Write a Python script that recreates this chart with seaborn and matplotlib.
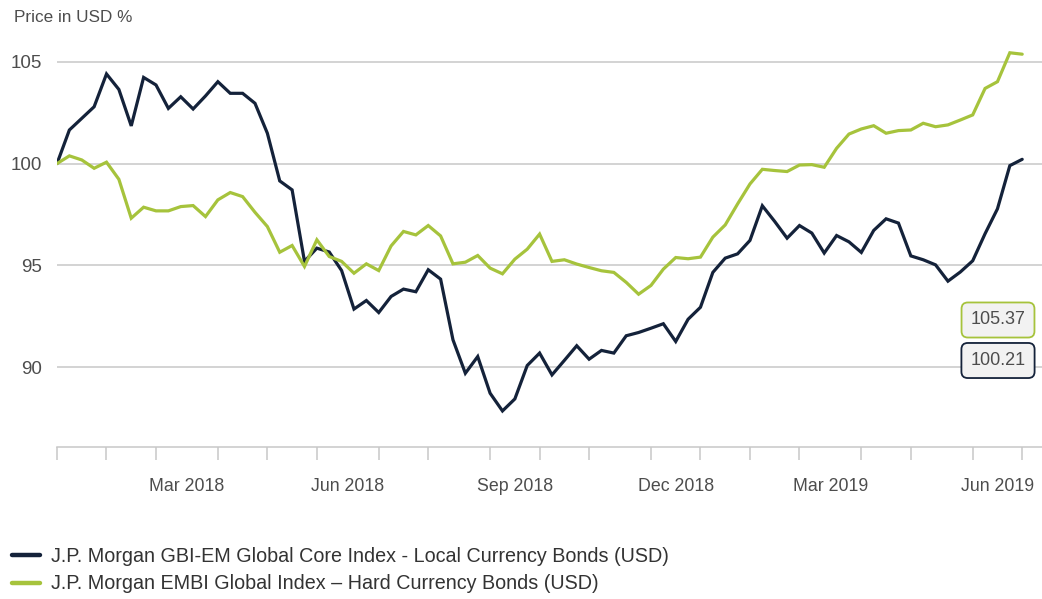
import numpy as np
import pandas as pd
import matplotlib
matplotlib.use("Agg")
import matplotlib.pyplot as plt
from matplotlib.lines import Line2D
import seaborn as sns

# ---------------- data ----------------
start_date = "2017-12-29"  # weekly (Friday) observations

local_ccy = [100.00, 101.65, 102.22, 102.79, 104.40, 103.64, 101.85, 104.23, 103.86, 102.71,
             103.28, 102.68, 103.32, 104.02, 103.45, 103.45, 102.96, 101.49, 99.15, 98.71,
             95.20, 95.85, 95.66, 94.75, 92.86, 93.28, 92.69, 93.48, 93.84, 93.71,
             94.79, 94.33, 91.35, 89.71, 90.53, 88.73, 87.86, 88.45, 90.09, 90.70,
             89.63, 90.34, 91.06, 90.40, 90.83, 90.70, 91.55, 91.71, 91.92, 92.14,
             91.27, 92.36, 92.95, 94.66, 95.36, 95.57, 96.23, 97.93, 97.16, 96.34,
             96.96, 96.59, 95.61, 96.47, 96.16, 95.64, 96.72, 97.29, 97.08, 95.47,
             95.28, 95.03, 94.23, 94.68, 95.23, 96.56, 97.78, 99.90, 100.21]

hard_ccy = [100.00, 100.38, 100.18, 99.77, 100.07, 99.23, 97.32, 97.86, 97.68, 97.68,
            97.89, 97.94, 97.40, 98.22, 98.58, 98.38, 97.61, 96.91, 95.65, 95.98,
            94.95, 96.26, 95.44, 95.20, 94.62, 95.08, 94.75, 95.96, 96.67, 96.50,
            96.96, 96.45, 95.08, 95.16, 95.49, 94.87, 94.59, 95.31, 95.80, 96.54,
            95.20, 95.28, 95.07, 94.90, 94.74, 94.66, 94.17, 93.59, 94.02, 94.82,
            95.39, 95.33, 95.41, 96.39, 96.99, 98.02, 99.00, 99.72, 99.66, 99.61,
            99.93, 99.95, 99.82, 100.75, 101.45, 101.70, 101.86, 101.49, 101.62, 101.65,
            101.98, 101.81, 101.90, 102.14, 102.39, 103.69, 104.02, 105.44, 105.37]

series_names = ["J.P. Morgan GBI-EM Global Core Index - Local Currency Bonds (USD)",
                "J.P. Morgan EMBI Global Index \u2013 Hard Currency Bonds (USD)"]
y_ticks = [90, 95, 100, 105]
month_labels = ["Mar 2018", "Jun 2018", "Sep 2018", "Dec 2018", "Mar 2019", "Jun 2019"]
end_labels = ["105.37", "100.21"]
y_title = "Price in USD %"

# ---------------- styling ----------------
NAVY = "#14223a"
GREEN = "#a6c33c"
GRID = "#c8c8c8"
TEXT = "#4d4d4d"

dates = pd.date_range(start_date, periods=len(local_ccy), freq="W-FRI")
df = pd.DataFrame({"week": np.arange(len(dates)),
                   series_names[0]: local_ccy,
                   series_names[1]: hard_ccy})
long = df.melt(id_vars="week", var_name="series", value_name="value")

sns.set_theme(style="white")
plt.rcParams["font.family"] = ["Liberation Sans", "DejaVu Sans"]

W, H = 1042, 599
fig = plt.figure(figsize=(W / 100, H / 100), dpi=100)
ax = fig.add_axes([57 / W, 1 - 447 / H, 1 - 57 / W, 447 / H])

sns.lineplot(data=long, x="week", y="value", hue="series",
             palette=[NAVY, GREEN], hue_order=series_names,
             linewidth=2.3, ax=ax, legend=False)
for ln in ax.get_lines():
    ln.set_solid_joinstyle("miter")

ax.set_xlim(0, 79.6)
ax.set_ylim(86.09, 108.03)
ax.set_xlabel("")
ax.set_ylabel("")

# month boundary ticks
bounds = [i for i in range(len(dates) - 1) if dates[i + 1].month != dates[i].month]
bounds.append(len(dates) - 1)
ax.set_xticks(bounds)
ax.tick_params(axis="x", which="major", bottom=True, length=9.5, width=1.1, color=GRID,
               labelbottom=False, direction="out")
mids, labs = [], []
for k in range(len(bounds) - 1):
    nxt = dates[bounds[k] + 1]
    lab = nxt.strftime("%b %Y")
    if lab in month_labels:
        mids.append((bounds[k] + bounds[k + 1]) / 2)
        labs.append(lab)
ax.set_xticks(mids, minor=True)
ax.set_xticklabels(labs, minor=True)
ax.tick_params(axis="x", which="minor", bottom=True, length=0, pad=22, labelsize=12.8,
               labelcolor=TEXT)

ax.set_yticks(y_ticks)
ax.tick_params(axis="y", length=0, pad=11, labelsize=13.5, labelcolor=TEXT)
ax.yaxis.grid(True, color=GRID, linewidth=1.1)
ax.xaxis.grid(False)
for s in ["top", "right", "left"]:
    ax.spines[s].set_visible(False)
ax.spines["bottom"].set_color(GRID)
ax.spines["bottom"].set_linewidth(1.1)

fig.text(14 / W, 1 - 18 / H, y_title, ha="left", va="center", fontsize=12.3, color=TEXT)

# end value boxes
for lab, col, yc in [(end_labels[0], GREEN, 320), (end_labels[1], NAVY, 360.5)]:
    fig.text(998 / W, 1 - yc / H, lab, ha="center", va="center", fontsize=13, color=TEXT,
             bbox=dict(boxstyle="round,pad=0.5,rounding_size=0.35", fc="#f2f2f2",
                       ec=col, lw=1.3))

handles = [Line2D([], [], color=NAVY, lw=3.2), Line2D([], [], color=GREEN, lw=3.2)]
fig.legend(handles, series_names, loc="center left", bbox_to_anchor=(12 / W, 1 - 570 / H),
           frameon=False, fontsize=14.2, handlelength=1.4, handletextpad=0.6,
           labelspacing=0.45, borderpad=0, borderaxespad=0, labelcolor="#333333")

fig.savefig("out.png", dpi=100)
